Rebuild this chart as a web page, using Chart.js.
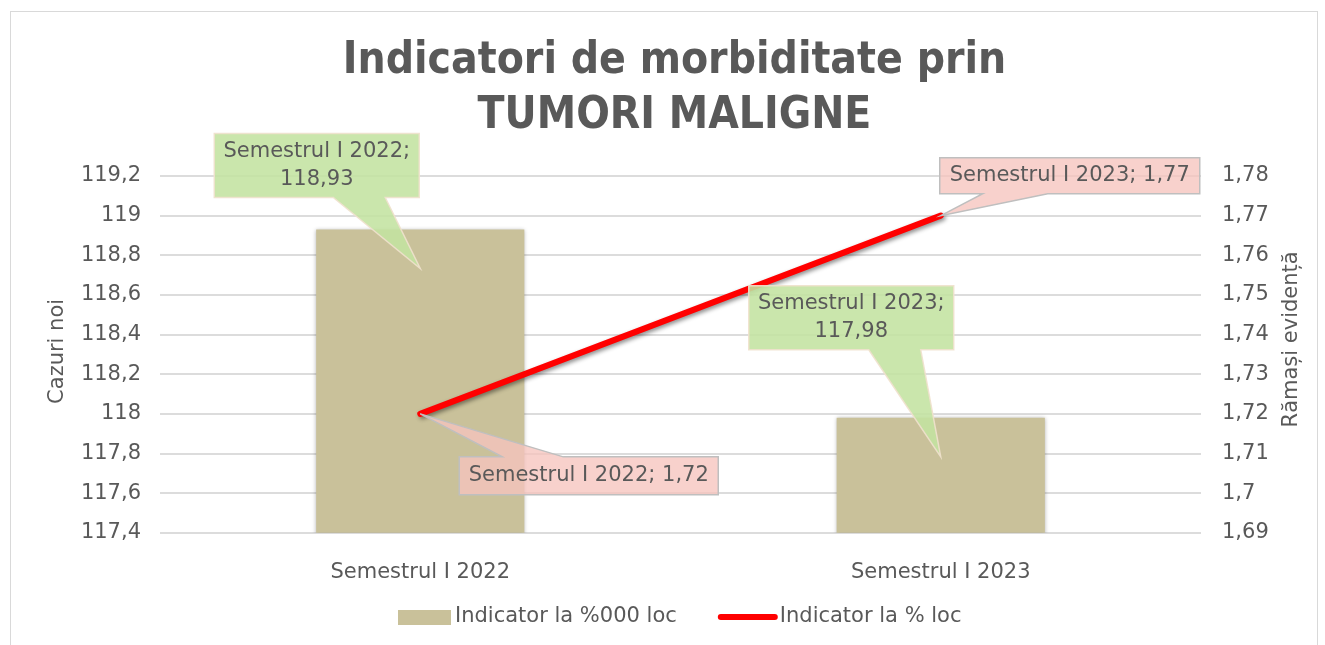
<!DOCTYPE html>
<html>
<head>
<meta charset="utf-8">
<script src="https://cdn.jsdelivr.net/npm/chart.js@4.4.1/dist/chart.umd.min.js"></script>
<style>
  html, body { margin: 0; padding: 0; background: #fff; }
  #wrap { position: relative; width: 1325px; height: 645px; }
  #frame { position: absolute; left: 10px; top: 11px; width: 1308px; height: 650px; border: 1px solid #d9d9d9; box-sizing: border-box; }
  canvas { position: absolute; left: 0; top: 0; }
</style>
</head>
<body>
<div id="wrap"><div id="frame"></div><canvas id="chart" width="1325" height="645"></canvas></div>
<script>
// data
var categories = ["Semestrul I 2022", "Semestrul I 2023"];
var barValues = [118.93, 117.98];
var lineValues = [1.72, 1.77];
var leftTicks = [117.4, 117.6, 117.8, 118, 118.2, 118.4, 118.6, 118.8, 119, 119.2];
var rightTicks = [1.69, 1.7, 1.71, 1.72, 1.73, 1.74, 1.75, 1.76, 1.77, 1.78];
var seriesNames = ["Indicator la %000 loc", "Indicator la % loc"];
var axisTitles = ["Cazuri noi", "Rămași evidență"];
var titleLines = ["Indicatori de morbiditate prin", "TUMORI MALIGNE"];

var fontFamily = '"DejaVu Sans", sans-serif';
var titleFamily = '"DejaVu Sans Condensed", "DejaVu Sans", sans-serif';
var textColor = "#595959";
var barColor = "#C9C19A";
var lineColor = "#FF0000";

function fmt(v) {
  return String(+v.toFixed(2)).replace(".", ",");
}

// callout geometry relative to its tip (style only)
var barCallouts = [
  { drop: 39, box: [-206, -135, -1, -71], base: [-87, -35], side: "bottom" },
  { drop: 39, box: [-192, -171, 13, -107], base: [-72, -20], side: "bottom" }
];
var lineCallouts = [
  { box: [39, 43, 298, 81], base: [82, 143], side: "top" },
  { box: [-1, -58, 259, -22], base: [42, 107], side: "bottom" }
];

function drawCallout(ctx, tip, c, lines, fill, stroke) {
  var x0 = tip.x + c.box[0], y0 = tip.y + c.box[1];
  var x1 = tip.x + c.box[2], y1 = tip.y + c.box[3];
  ctx.save();
  ctx.beginPath();
  if (c.side === "bottom") {
    ctx.moveTo(x0, y0);
    ctx.lineTo(x1, y0);
    ctx.lineTo(x1, y1);
    ctx.lineTo(tip.x + c.base[1], y1);
    ctx.lineTo(tip.x, tip.y);
    ctx.lineTo(tip.x + c.base[0], y1);
    ctx.lineTo(x0, y1);
  } else {
    ctx.moveTo(x0, y0);
    ctx.lineTo(tip.x + c.base[0], y0);
    ctx.lineTo(tip.x, tip.y);
    ctx.lineTo(tip.x + c.base[1], y0);
    ctx.lineTo(x1, y0);
    ctx.lineTo(x1, y1);
    ctx.lineTo(x0, y1);
  }
  ctx.closePath();
  ctx.fillStyle = fill;
  ctx.fill();
  ctx.lineWidth = 1.5;
  ctx.strokeStyle = stroke;
  ctx.stroke();
  ctx.fillStyle = textColor;
  ctx.font = "21px " + fontFamily;
  ctx.textAlign = "center";
  ctx.textBaseline = "middle";
  var lh = 28;
  var cy = (y0 + y1) / 2 - (lines.length - 1) * lh / 2;
  lines.forEach(function(t, i) {
    ctx.fillText(t, (x0 + x1) / 2, cy + i * lh);
  });
  ctx.restore();
}

var shadowPlugin = {
  id: "shadows",
  beforeDatasetDraw: function(chart, args) {
    var ctx = chart.ctx;
    ctx.save();
    if (args.meta.type === "line") {
      ctx.shadowColor = "rgba(0,0,0,0.45)";
      ctx.shadowBlur = 4;
      ctx.shadowOffsetX = 2;
      ctx.shadowOffsetY = 2;
    } else {
      ctx.shadowColor = "rgba(0,0,0,0.3)";
      ctx.shadowBlur = 4;
    }
  },
  afterDatasetDraw: function(chart) {
    chart.ctx.restore();
  }
};

var extrasPlugin = {
  id: "extras",
  afterDatasetsDraw: function(chart) {
    var ctx = chart.ctx;
    var bars = chart.getDatasetMeta(1).data;
    var pts = chart.getDatasetMeta(0).data;
    bars.forEach(function(b, i) {
      var c = barCallouts[i];
      drawCallout(ctx, { x: b.x, y: b.y + c.drop }, c,
        [categories[i] + ";", fmt(barValues[i])],
        "rgba(195,226,160,0.88)", "rgba(240,225,205,0.9)");
    });
    pts.forEach(function(p, i) {
      drawCallout(ctx, { x: p.x, y: p.y }, lineCallouts[i],
        [categories[i] + "; " + fmt(lineValues[i])],
        "rgba(246,196,190,0.78)", "#BFBFBF");
    });
  },
  afterDraw: function(chart) {
    var ctx = chart.ctx;
    var area = chart.chartArea;
    ctx.save();
    ctx.fillStyle = textColor;
    ctx.font = "21px " + fontFamily;
    ctx.textBaseline = "middle";
    ctx.textAlign = "center";
    var midY = (area.top + area.bottom) / 2;
    ctx.save();
    ctx.translate(58, midY - 3);
    ctx.rotate(-Math.PI / 2);
    ctx.fillText(axisTitles[0], 0, 0);
    ctx.restore();
    ctx.save();
    ctx.translate(1292, midY - 15);
    ctx.rotate(-Math.PI / 2);
    ctx.fillText(axisTitles[1], 0, 0);
    ctx.restore();

    // legend
    var ly = 617;
    var x = 398;
    ctx.textAlign = "left";
    ctx.fillStyle = barColor;
    ctx.fillRect(x, ly - 7, 53, 15);
    x += 57;
    ctx.fillStyle = textColor;
    ctx.fillText(seriesNames[0], x, ly);
    x += ctx.measureText(seriesNames[0]).width + 44;
    ctx.strokeStyle = lineColor;
    ctx.lineWidth = 6;
    ctx.lineCap = "round";
    ctx.beginPath();
    ctx.moveTo(x, ly);
    ctx.lineTo(x + 54, ly);
    ctx.stroke();
    x += 59;
    ctx.fillText(seriesNames[1], x, ly);
    ctx.restore();
  }
};

var ctx = document.getElementById("chart").getContext("2d");
var chart = new Chart(ctx, {
  type: "bar",
  data: {
    labels: categories,
    datasets: [
      {
        type: "line",
        label: seriesNames[1],
        data: lineValues,
        yAxisID: "y1",
        borderColor: lineColor,
        backgroundColor: lineColor,
        borderWidth: 6,
        borderCapStyle: "round",
        pointRadius: 0,
        order: 0
      },
      {
        type: "bar",
        label: seriesNames[0],
        data: barValues,
        yAxisID: "y",
        backgroundColor: barColor,
        barPercentage: 0.8,
        categoryPercentage: 0.5,
        order: 1
      }
    ]
  },
  options: {
    responsive: false,
    animation: false,
    layout: { padding: { left: 24, right: 0, top: 0, bottom: 41 } },
    plugins: {
      legend: { display: false },
      tooltip: { enabled: false },
      title: {
        display: true,
        text: titleLines,
        color: textColor,
        font: { family: titleFamily, size: 44, weight: "bold", lineHeight: 1.25 },
        padding: { top: 34, bottom: 32 }
      }
    },
    scales: {
      x: {
        grid: { display: false },
        border: { display: false },
        ticks: { color: textColor, font: { family: fontFamily, size: 21 }, padding: 19 }
      },
      y: {
        position: "left",
        min: 117.4,
        max: 119.2,
        afterBuildTicks: function(s) { s.ticks = leftTicks.map(function(v) { return { value: v }; }); },
        afterFit: function(s) { s.width = 136; },
        grid: { color: "#DCDCDC", lineWidth: 2, drawTicks: false },
        border: { display: false },
        ticks: { color: textColor, font: { family: fontFamily, size: 21 }, padding: 19,
          callback: function(v) { return fmt(v); } }
      },
      y1: {
        position: "right",
        min: 1.69,
        max: 1.78,
        afterBuildTicks: function(s) { s.ticks = rightTicks.map(function(v) { return { value: v }; }); },
        afterFit: function(s) { s.width = 124; },
        grid: { display: false, drawTicks: false },
        border: { display: false },
        ticks: { color: textColor, font: { family: fontFamily, size: 21 }, padding: 21,
          callback: function(v) { return fmt(v); } }
      }
    }
  },
  plugins: [shadowPlugin, extrasPlugin]
});
</script>
</body>
</html>
